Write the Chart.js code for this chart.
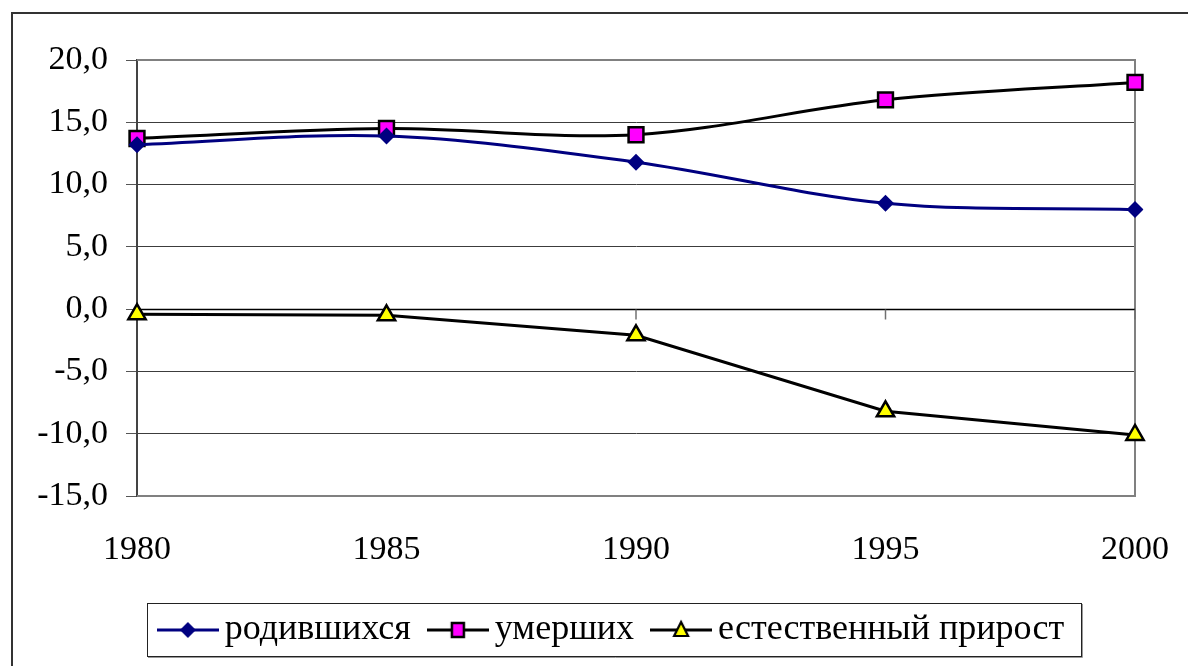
<!DOCTYPE html>
<html>
<head>
<meta charset="utf-8">
<script src="https://cdn.jsdelivr.net/npm/chart.js@4.4.1/dist/chart.umd.min.js"></script>
<style>
  html, body { margin: 0; padding: 0; background: #fff; }
  #wrap { width: 1188px; height: 666px; position: relative; }
</style>
</head>
<body>
<div id="wrap"><canvas id="chart" width="1188" height="666"></canvas></div>
<script>
// Data
const years = ['1980', '1985', '1990', '1995', '2000'];
const births = [13.2, 13.9, 11.8, 8.5, 8.0];
const deaths = [13.7, 14.5, 14.0, 16.8, 18.2];
const natural = [-0.4, -0.5, -2.1, -8.2, -10.1];
const seriesNames = ['родившихся', 'умерших', 'естественный прирост'];
const yMin = -15, yMax = 20, yStep = 5;

const FONT = '"Liberation Serif", "Times New Roman", serif';

// small canvas images used as legend symbols (line + marker)
function legendSymbol(lineColor, draw) {
    const c = document.createElement('canvas');
    c.width = 62; c.height = 22;
    const g = c.getContext('2d');
    g.strokeStyle = lineColor;
    g.lineWidth = 3;
    g.beginPath(); g.moveTo(0, 11); g.lineTo(62, 11); g.stroke();
    draw(g, 31, 11);
    return c;
}
const symBirths = legendSymbol('#000080', (g, x, y) => {
    g.fillStyle = '#000080';
    g.beginPath(); g.moveTo(x - 8, y); g.lineTo(x, y - 8); g.lineTo(x + 8, y); g.lineTo(x, y + 8); g.closePath(); g.fill();
});
const symDeaths = legendSymbol('#000000', (g, x, y) => {
    g.fillStyle = '#ff00ff'; g.strokeStyle = '#000'; g.lineWidth = 2.5;
    g.fillRect(x - 6, y - 7, 12, 14); g.strokeRect(x - 6, y - 7, 12, 14);
});
const symNatural = legendSymbol('#000000', (g, x, y) => {
    g.fillStyle = '#ffff00'; g.strokeStyle = '#000'; g.lineWidth = 2.2;
    g.beginPath(); g.moveTo(x, y - 8); g.lineTo(x + 7, y + 6); g.lineTo(x - 7, y + 6); g.closePath(); g.fill(); g.stroke();
});
const symbols = [symBirths, symDeaths, symNatural];

// frame pieces: outer chart border, plot border, zero axis with ticks, legend box
const framePlugin = {
    id: 'frame',
    afterLayout(chart) {
        const lg = chart.legend;
        lg.left += 49; lg.right += 49;
    },
    beforeDatasetsDraw(chart) {
        const { ctx, chartArea: a, scales: { x, y } } = chart;
        ctx.save();
        // plot area border (top, right, bottom)
        ctx.strokeStyle = '#808080';
        ctx.lineWidth = 2;
        ctx.beginPath();
        ctx.moveTo(a.left, a.top); ctx.lineTo(a.right, a.top);
        ctx.lineTo(a.right, a.bottom); ctx.lineTo(a.left, a.bottom);
        ctx.stroke();
        // category axis crossing at 0
        const y0 = Math.round(y.getPixelForValue(0)) + 0.5;
        ctx.strokeStyle = '#000';
        ctx.lineWidth = 1.5;
        ctx.beginPath(); ctx.moveTo(a.left, y0); ctx.lineTo(a.right, y0); ctx.stroke();
        ctx.strokeStyle = '#707070';
        ctx.lineWidth = 1.5;
        years.forEach((_, i) => {
            const px = x.getPixelForValue(i);
            ctx.beginPath(); ctx.moveTo(px, y0); ctx.lineTo(px, y0 + 10); ctx.stroke();
        });
        ctx.restore();
    },
    afterDraw(chart) {
        const { ctx } = chart;
        ctx.save();
        // outer chart border
        ctx.strokeStyle = '#333';
        ctx.lineWidth = 2;
        ctx.beginPath();
        ctx.moveTo(12, 700); ctx.lineTo(12, 13); ctx.lineTo(1200, 13);
        ctx.stroke();
        // legend border
        const hb = chart.legend.legendHitBoxes;
        if (hb && hb.length) {
            const first = hb[0], last = hb[hb.length - 1];
            const cy = first.top + first.height / 2;
            const l = first.left - 22, r = last.left + last.width + 17;
            ctx.strokeStyle = '#222';
            ctx.lineWidth = 1;
            ctx.strokeRect(Math.round(l) + 0.5, Math.round(cy - 27) + 0.5, Math.round(r - l), 53);
            ctx.strokeStyle = '#999';
            ctx.beginPath();
            ctx.moveTo(Math.round(l) + 1, Math.round(cy + 26) + 1.5);
            ctx.lineTo(Math.round(r) + 1.5, Math.round(cy + 26) + 1.5);
            ctx.lineTo(Math.round(r) + 1.5, Math.round(cy - 27) + 1);
            ctx.stroke();
        }
        ctx.restore();
    }
};

new Chart(document.getElementById('chart'), {
    type: 'line',
    data: {
        labels: years,
        datasets: [
            {
                label: seriesNames[0],
                data: births,
                borderColor: '#000080',
                backgroundColor: '#000080',
                borderWidth: 3,
                tension: 0.33,
                pointStyle: 'rectRot',
                pointRadius: 8.5,
                pointBorderWidth: 0,
                pointBackgroundColor: '#000080'
            },
            {
                label: seriesNames[1],
                data: deaths,
                borderColor: '#000000',
                backgroundColor: '#ff00ff',
                borderWidth: 3,
                tension: 0.33,
                pointStyle: 'rect',
                pointRadius: 10.5,
                pointBorderWidth: 2.5,
                pointBorderColor: '#000',
                pointBackgroundColor: '#ff00ff'
            },
            {
                label: seriesNames[2],
                data: natural,
                borderColor: '#000000',
                backgroundColor: '#ffff00',
                borderWidth: 3,
                tension: 0,
                pointStyle: 'triangle',
                pointRadius: 10,
                pointBorderWidth: 2.5,
                pointBorderColor: '#000',
                pointBackgroundColor: '#ffff00'
            }
        ]
    },
    options: {
        responsive: false,
        animation: false,
        layout: { padding: { top: 60, right: 53, bottom: 8, left: 0 } },
        plugins: {
            tooltip: { enabled: false },
            legend: {
                position: 'bottom',
                labels: {
                    color: '#000',
                    font: { family: FONT, size: 36 },
                    usePointStyle: true,
                    pointStyleWidth: 38,
                    boxHeight: 22,
                    padding: 28,
                    generateLabels: (chart) => seriesNames.map((name, i) => ({
                        text: name,
                        pointStyle: symbols[i],
                        fillStyle: '#fff',
                        strokeStyle: '#fff',
                        lineWidth: 0,
                        hidden: false,
                        datasetIndex: i
                    }))
                }
            }
        },
        scales: {
            x: {
                offset: false,
                grid: { display: true, drawOnChartArea: false, drawTicks: true, tickLength: 34, tickColor: 'rgba(0,0,0,0)' },
                border: { display: false },
                ticks: { color: '#000', font: { family: FONT, size: 34 }, padding: 0, maxRotation: 0 },
                afterFit: (s) => { s.height = 88; }
            },
            y: {
                min: yMin,
                max: yMax,
                ticks: {
                    stepSize: yStep,
                    color: '#000',
                    padding: 18,
                    font: { family: FONT, size: 34 },
                    callback: (v) => v.toFixed(1).replace('.', ',')
                },
                grid: { color: '#3c3c3c', lineWidth: 1, tickLength: 11, tickColor: '#555' },
                border: { color: '#444', width: 2 },
                afterFit: (s) => { s.width = 137; }
            }
        }
    },
    plugins: [framePlugin]
});
</script>
</body>
</html>
